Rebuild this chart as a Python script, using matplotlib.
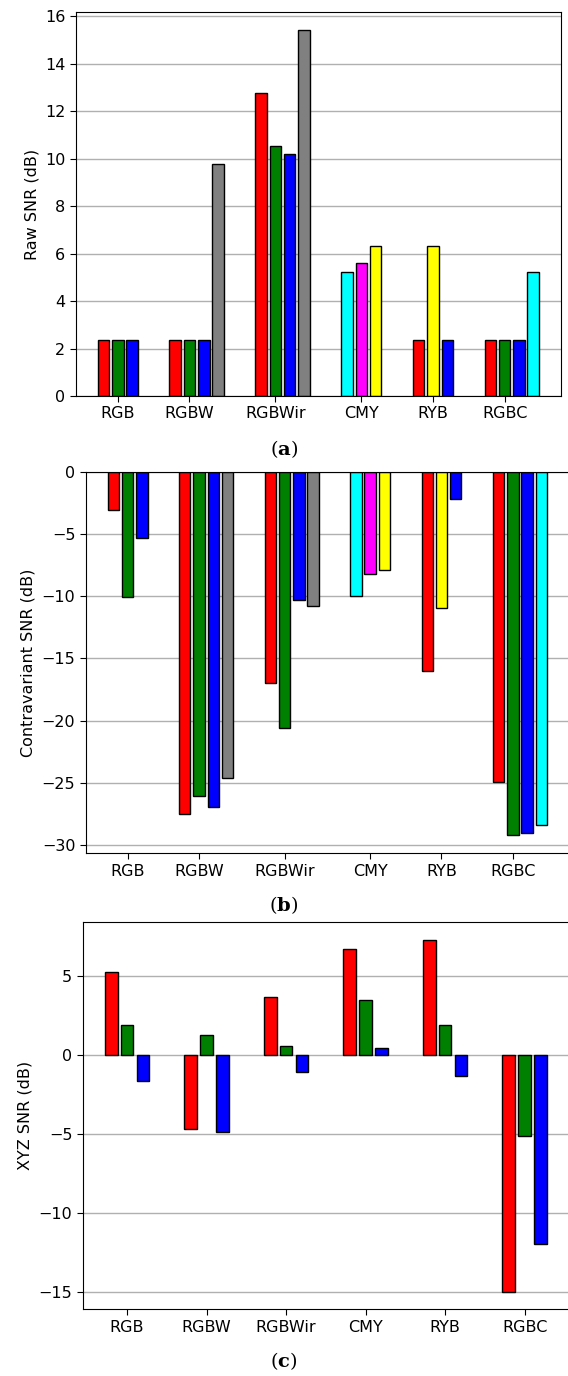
import numpy as np
import matplotlib
matplotlib.use('Agg')
import matplotlib.pyplot as plt

# filter arrays and their channels
groups = ['RGB', 'RGBW', 'RGBWir', 'CMY', 'RYB', 'RGBC']
channel_colors = [['red', 'green', 'blue'],
                  ['red', 'green', 'blue', 'gray'],
                  ['red', 'green', 'blue', 'gray'],
                  ['cyan', 'magenta', 'yellow'],
                  ['red', 'yellow', 'blue'],
                  ['red', 'green', 'blue', 'cyan']]
xyz_colors = [['red', 'green', 'blue']] * 6

# SNR values (dB) read per channel
raw_snr = [[2.35, 2.35, 2.35],
           [2.35, 2.35, 2.35, 9.78],
           [12.75, 10.55, 10.18, 15.41],
           [5.21, 5.60, 6.32],
           [2.35, 6.32, 2.35],
           [2.35, 2.35, 2.35, 5.21]]
contra_snr = [[-3.06, -10.10, -5.36],
              [-27.50, -26.06, -26.97, -24.60],
              [-16.94, -20.56, -10.30, -10.80],
              [-9.95, -8.23, -7.88],
              [-16.00, -10.97, -2.23],
              [-24.93, -29.20, -29.06, -28.39]]
xyz_snr = [[5.22, 1.89, -1.66],
           [-4.67, 1.26, -4.88],
           [3.68, 0.57, -1.09],
           [6.69, 3.45, 0.42],
           [7.28, 1.92, -1.33],
           [-14.97, -5.14, -11.94]]

plt.rcParams['font.size'] = 11.5
plt.rcParams['mathtext.fontset'] = 'dejavuserif'


def grouped_bars(ax, values, colors, ylabel):
    start = 0
    ticks = []
    for vals, cols in zip(values, colors):
        xs = start + np.arange(len(vals))
        ax.bar(xs, vals, width=0.8, color=cols, edgecolor='black', linewidth=1.0)
        ticks.append(start + 1)
        start += len(vals) + 2
    ax.set_xticks(ticks)
    ax.set_xticklabels(groups)
    ax.set_ylabel(ylabel)
    ax.yaxis.grid(True, color='#b0b0b0', linewidth=1.0)
    ax.set_axisbelow(True)
    ax.tick_params(length=4)


fig = plt.figure(figsize=(5.68, 13.76), dpi=100)

ax1 = fig.add_axes([0.1333, 0.7122, 0.8544, 0.2791])
grouped_bars(ax1, raw_snr, channel_colors, 'Raw SNR (dB)')

ax2 = fig.add_axes([0.1509, 0.3799, 0.8509, 0.2773])
grouped_bars(ax2, contra_snr, channel_colors, 'Contravariant SNR (dB)')

ax3 = fig.add_axes([0.1456, 0.0485, 0.8562, 0.2813])
grouped_bars(ax3, xyz_snr, xyz_colors, 'XYZ SNR (dB)')

for y, letter in [(449, 'a'), (905, 'b'), (1361, 'c')]:
    fig.text(0.5, 1 - y / 1376, r'($\mathbf{' + letter + '}$)', ha='center', va='center',
             family='DejaVu Serif', fontsize=14)

fig.savefig('out.png', dpi=100)
